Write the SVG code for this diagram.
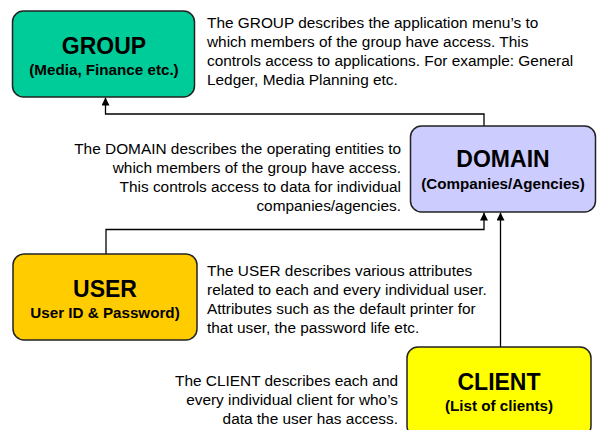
<svg xmlns="http://www.w3.org/2000/svg" width="597" height="430" viewBox="0 0 597 430">
  <style>
    text { font-family: "Liberation Sans", Arial, Helvetica, sans-serif; fill: #000; }
    .box { stroke: #222; stroke-width: 1.5; }
    .title { font-size: 23px; font-weight: bold; text-anchor: middle; }
    .sub { font-size: 15.2px; font-weight: bold; text-anchor: middle; }
    .desc { font-size: 15.4px; }
    .right { text-anchor: end; }
    .conn { fill: none; stroke: #000; stroke-width: 1.3; marker-end: url(#arrow); }
  </style>
  <defs>
    <marker id="arrow" viewBox="0 0 8 8" refX="8" refY="4" markerWidth="8" markerHeight="8" markerUnits="userSpaceOnUse" orient="auto">
      <path d="M0,0 L8,4 L0,8 z" fill="#000"/>
    </marker>
  </defs>

  <g id="connectors">
    <path class="conn" d="M484,126 V114 H105.5 V97.5"/>
    <path class="conn" d="M106,254 V229.5 H484 V212.5"/>
    <path class="conn" d="M500.5,347 V212.5"/>
  </g>

  <g id="group">
    <rect class="box" x="12.5" y="11" width="182" height="86" rx="11" fill="#00CC99"/>
    <text class="title" x="104" y="54">GROUP</text>
    <text class="sub" x="104" y="75">(Media, Finance etc.)</text>
  </g>
  <g id="group-note">
    <text class="desc" x="207" y="28">The GROUP describes the application menu’s to</text>
    <text class="desc" x="207" y="47">which members of the group have access. This</text>
    <text class="desc" x="207" y="66">controls access to applications. For example: General</text>
    <text class="desc" x="207" y="85">Ledger, Media Planning etc.</text>
  </g>

  <g id="domain">
    <rect class="box" x="410.5" y="126" width="185" height="86" rx="11" fill="#CCCCFF"/>
    <text class="title" x="503" y="167">DOMAIN</text>
    <text class="sub" x="503" y="189">(Companies/Agencies)</text>
  </g>
  <g id="domain-note">
    <text class="desc right" x="401" y="154">The DOMAIN describes the operating entities to</text>
    <text class="desc right" x="401" y="173">which members of the group have access.</text>
    <text class="desc right" x="401" y="192">This controls access to data for individual</text>
    <text class="desc right" x="401" y="211">companies/agencies.</text>
  </g>

  <g id="user">
    <rect class="box" x="13" y="254" width="184" height="86" rx="11" fill="#FFCC00"/>
    <text class="title" x="105" y="297">USER</text>
    <text class="sub" x="105" y="318">User ID &amp; Password)</text>
  </g>
  <g id="user-note">
    <text class="desc" x="207" y="276">The USER describes various attributes</text>
    <text class="desc" x="207" y="295">related to each and every individual user.</text>
    <text class="desc" x="207" y="314">Attributes such as the default printer for</text>
    <text class="desc" x="207" y="333">that user, the password life etc.</text>
  </g>

  <g id="client">
    <rect class="box" x="407" y="347" width="184" height="90" rx="11" fill="#FFFF00"/>
    <text class="title" x="499" y="390">CLIENT</text>
    <text class="sub" x="499" y="411">(List of clients)</text>
  </g>
  <g id="client-note">
    <text class="desc right" x="398" y="386">The CLIENT describes each and</text>
    <text class="desc right" x="398" y="405">every individual client for who’s</text>
    <text class="desc right" x="398" y="424">data the user has access.</text>
  </g>
</svg>
